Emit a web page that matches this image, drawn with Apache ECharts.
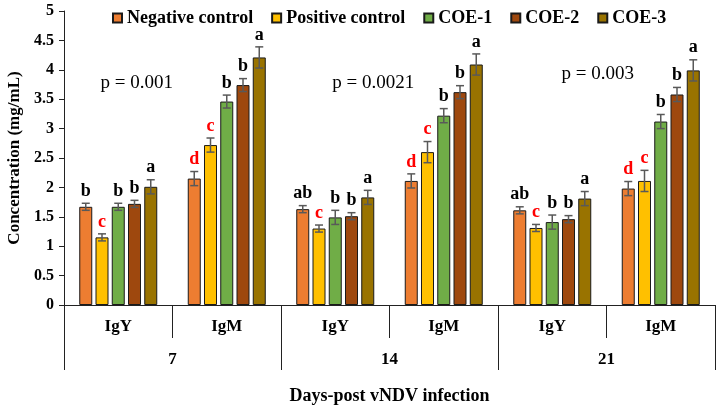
<!DOCTYPE html>
<html lang="en">

<head>
  <meta charset="UTF-8">
  <title>Concentration by days post vNDV infection</title>
  <style>
    html, body { margin: 0; padding: 0; background: #fff; }
    #myEcharts { width: 721px; height: 411px; }
  </style>
  <script src="https://cdn.jsdelivr.net/npm/echarts@6/dist/echarts.min.js"></script>
</head>

<body>
  <div id="myEcharts"></div>
  <script>
    // categories (inner row) and days (outer row)
    var categories = ['IgY', 'IgM', 'IgY', 'IgM', 'IgY', 'IgM'];
    var days = ['7', '14', '21'];
    var seriesNames = ['Negative control', 'Positive control', 'COE-1', 'COE-2', 'COE-3'];
    var colors = ['#ED7D31', '#FFC000', '#70AD47', '#9E480E', '#997300'];

    // means
    var negative = [1.67, 2.15, 1.63, 2.11, 1.61, 1.98];
    var positive = [1.15, 2.72, 1.30, 2.60, 1.31, 2.11];
    var coe1 = [1.67, 3.46, 1.49, 3.22, 1.41, 3.12];
    var coe2 = [1.72, 3.74, 1.51, 3.62, 1.46, 3.58];
    var coe3 = [2.01, 4.21, 1.83, 4.09, 1.81, 3.99];

    // error bar half widths
    var negErr = [0.06, 0.12, 0.06, 0.12, 0.06, 0.12];
    var posErr = [0.06, 0.12, 0.06, 0.18, 0.06, 0.18];
    var coe1Err = [0.06, 0.11, 0.12, 0.12, 0.12, 0.12];
    var coe2Err = [0.06, 0.11, 0.06, 0.11, 0.06, 0.12];
    var coe3Err = [0.12, 0.18, 0.12, 0.18, 0.12, 0.18];

    // significance letters
    var negLetters = ['b', 'd', 'ab', 'd', 'ab', 'd'];
    var posLetters = ['c', 'c', 'c', 'c', 'c', 'c'];
    var coe1Letters = ['b', 'b', 'b', 'b', 'b', 'b'];
    var coe2Letters = ['b', 'b', 'b', 'b', 'b', 'b'];
    var coe3Letters = ['a', 'a', 'a', 'a', 'a', 'a'];

    var pLabels = ['p = 0.001', 'p = 0.0021', 'p = 0.003'];

    var allValues = [negative, positive, coe1, coe2, coe3];
    var allErrs = [negErr, posErr, coe1Err, coe2Err, coe3Err];
    var allLetters = [negLetters, posLetters, coe1Letters, coe2Letters, coe3Letters];

    var serif = "'Liberation Serif', 'Times New Roman', serif";
    var BAR_W = 13;
    var STEP = BAR_W * 1.25;

    var series = [];
    seriesNames.forEach(function (name, i) {
      series.push({
        name: name,
        type: 'bar',
        barWidth: BAR_W,
        barGap: '25%',
        itemStyle: { color: colors[i], borderColor: '#1a1a1a', borderWidth: 1 },
        data: allValues[i]
      });
    });
    // error bars + letters, one custom series per group
    seriesNames.forEach(function (name, i) {
      series.push({
        type: 'custom',
        silent: true,
        z: 5,
        data: allValues[i].map(function (v, k) { return [k, v, allErrs[i][k]]; }),
        renderItem: function (params, api) {
          var k = api.value(0), v = api.value(1), e = api.value(2);
          var dx = (i - 2) * STEP;
          var top = api.coord([k, v + e]);
          var bot = api.coord([k, v - e]);
          var x = top[0] + dx;
          var letter = allLetters[i][params.dataIndex];
          var red = letter === 'c' || letter === 'd';
          var st = { stroke: '#595959', lineWidth: 1.5 };
          return {
            type: 'group',
            children: [
              { type: 'line', shape: { x1: x, y1: top[1], x2: x, y2: bot[1] }, style: st },
              { type: 'line', shape: { x1: x - 4, y1: top[1], x2: x + 4, y2: top[1] }, style: st },
              { type: 'line', shape: { x1: x - 4, y1: bot[1], x2: x + 4, y2: bot[1] }, style: st },
              {
                type: 'text',
                style: {
                  x: x, y: top[1] - 3, text: letter, align: 'center', verticalAlign: 'bottom',
                  fill: red ? '#FF0000' : '#000', font: 'bold 18px ' + serif
                }
              }
            ]
          };
        }
      });
    });

    var myChart = echarts.init(document.getElementById('myEcharts'));
    var option = {
      animation: false,
      grid: { left: 64, right: 6, top: 11, bottom: 106, outerBoundsMode: 'none' },
      legend: {
        top: 4,
        left: 107,
        itemWidth: 9,
        itemHeight: 9,
        itemGap: 18,
        icon: 'rect',
        data: seriesNames,
        textStyle: { fontFamily: serif, fontWeight: 'bold', fontSize: 18, color: '#000' }
      },
      xAxis: [
        {
          type: 'category',
          data: categories,
          axisLine: { lineStyle: { color: '#222', width: 1 } },
          axisTick: { show: true, length: 33, interval: 0, lineStyle: { color: '#222' } },
          axisLabel: { margin: 13, interval: 0, fontFamily: serif, fontWeight: 'bold', fontSize: 17, color: '#000' }
        },
        {
          type: 'category',
          data: days,
          position: 'bottom',
          axisLine: { show: false },
          axisTick: { show: true, length: 65, interval: 0, lineStyle: { color: '#222' } },
          axisLabel: { margin: 46, interval: 0, fontFamily: serif, fontWeight: 'bold', fontSize: 17, color: '#000' },
          name: 'Days-post vNDV infection',
          nameLocation: 'middle',
          nameGap: 82,
          nameTextStyle: { fontFamily: serif, fontWeight: 'bold', fontSize: 18, color: '#000' }
        }
      ],
      yAxis: {
        type: 'value',
        min: 0,
        max: 5,
        interval: 0.5,
        name: 'Concentration (mg/mL)',
        nameLocation: 'middle',
        nameGap: 38,
        nameTextStyle: { fontFamily: serif, fontWeight: 'bold', fontSize: 17, color: '#000' },
        axisLine: { show: true, lineStyle: { color: '#222' } },
        axisTick: { show: true, length: 5, lineStyle: { color: '#222' } },
        splitLine: { show: false },
        axisLabel: { margin: 10, fontFamily: serif, fontWeight: 'bold', fontSize: 16, color: '#000' }
      },
      series: series
    };
    myChart.setOption(option);

    // p-value notes placed over each day group: [category index, offset within category, y value]
    var pAnchors = [[0, 0.17, 3.78], [2, 0.35, 3.78], [4, 0.42, 3.93]];
    myChart.setOption({
      graphic: pLabels.map(function (t, j) {
        var a = pAnchors[j];
        var p0 = myChart.convertToPixel({ xAxisIndex: 0, yAxisIndex: 0 }, [a[0], a[2]]);
        var p1 = myChart.convertToPixel({ xAxisIndex: 0, yAxisIndex: 0 }, [a[0] + 1, a[2]]);
        return {
          type: 'text', x: p0[0] + a[1] * (p1[0] - p0[0]), y: p0[1],
          style: { text: t, align: 'center', verticalAlign: 'middle', font: '19px ' + serif, fill: '#000' }
        };
      })
    });
  </script>
</body>

</html>
